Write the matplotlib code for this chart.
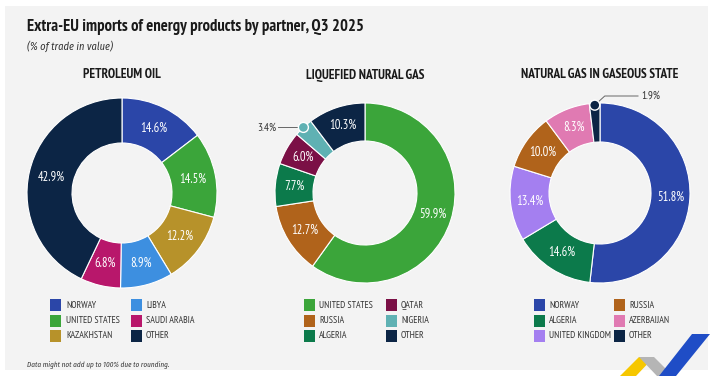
import numpy as np
import matplotlib
matplotlib.use("Agg")
import matplotlib.pyplot as plt
from matplotlib.patches import Rectangle, Polygon, Circle

plt.rcParams['font.family'] = ['PT Sans Narrow', 'DejaVu Sans']
ITAL_FONT = ['Fira Sans Condensed', 'PT Sans', 'DejaVu Sans']

# ---------------- data ----------------
title = "Extra-EU imports of energy products by partner, Q3 2025"
subtitle = "(% of trade in value)"
footer = "Data might not add up to 100% due to rounding."

oil_title = "PETROLEUM OIL"
oil_partners = ["NORWAY", "UNITED STATES", "KAZAKHSTAN", "LIBYA", "SAUDI ARABIA", "OTHER"]
oil_values = [14.6, 14.5, 12.2, 8.9, 6.8, 42.9]
oil_colors = ["#2b46a8", "#3ba53a", "#b7922a", "#3d8fe0", "#b8176b", "#0c2545"]

lng_title = "LIQUEFIED NATURAL GAS"
lng_partners = ["UNITED STATES", "RUSSIA", "ALGERIA", "QATAR", "NIGERIA", "OTHER"]
lng_values = [59.9, 12.7, 7.7, 6.0, 3.4, 10.3]
lng_colors = ["#3ba53a", "#b0631b", "#0c7a4b", "#7b1046", "#5fb1b3", "#0c2545"]

gas_title = "NATURAL GAS IN GASEOUS STATE"
gas_partners = ["NORWAY", "ALGERIA", "UNITED KINGDOM", "RUSSIA", "AZERBAIJAN", "OTHER"]
gas_values = [51.8, 14.6, 13.4, 10.0, 8.3, 1.9]
gas_colors = ["#2b46a8", "#0c7a4b", "#a47ff0", "#b0631b", "#e07ab2", "#0c2545"]

W, H = 724, 376
fig = plt.figure(figsize=(W / 100, H / 100), dpi=100)
fig.patch.set_facecolor("white")
ax = fig.add_axes([0, 0, 1, 1])


def Y(y):
    return H - y


# background panel
ax.add_patch(Rectangle((5, Y(370)), 703, 364, facecolor="#f3f3f3", edgecolor="none", zorder=0))

# title
ax.text(27, Y(27), title, fontsize=12, fontweight="bold", color="#1a1a1a", va="center", ha="left")
ax.text(27, Y(46), subtitle, fontsize=7.5, style="italic", color="#333333", va="center", ha="left",
        family=ITAL_FONT)
ax.text(27, Y(365), footer, fontsize=5.2, style="italic", color="#333333", va="center", ha="left",
        family=ITAL_FONT)

charts = [
    dict(title=oil_title, parts=oil_partners, vals=oil_values, cols=oil_colors,
         cx=122, cy=193, r=95, rin=50, small=[],
         leg=[(50, 66), (131, 146)]),
    dict(title=lng_title, parts=lng_partners, vals=lng_values, cols=lng_colors,
         cx=365, cy=193, r=90, rin=52, small=[4],
         leg=[(304, 319), (386, 401)]),
    dict(title=gas_title, parts=gas_partners, vals=gas_values, cols=gas_colors,
         cx=600, cy=193, r=90, rin=51, small=[5],
         leg=[(534, 549), (614, 629)]),
]

for c in charts:
    ax.text(c["cx"], Y(75), c["title"], fontsize=9.5, fontweight="bold", color="#1a1a1a",
            ha="center", va="center")
    wedges, _ = ax.pie(c["vals"], colors=c["cols"], startangle=90, counterclock=False,
                       radius=c["r"], center=(c["cx"], Y(c["cy"])),
                       wedgeprops=dict(width=c["r"] - c["rin"], edgecolor="white", linewidth=0.8))
    rmid = (c["r"] + c["rin"]) / 2
    for i, (w, v) in enumerate(zip(wedges, c["vals"])):
        th = np.deg2rad((w.theta1 + w.theta2) / 2)
        if i in c["small"]:
            continue
        ax.text(c["cx"] + rmid * np.cos(th), Y(c["cy"]) + rmid * np.sin(th), f"{v:.1f}%",
                color="white", fontsize=9, ha="center", va="center")
    # legend
    for i, (p, col) in enumerate(zip(c["parts"], c["cols"])):
        colx = i // 3
        row = i % 3
        sx, tx = c["leg"][colx]
        yy = 305 + row * 15.5
        ax.add_patch(Rectangle((sx, Y(yy) - 6), 11, 12, facecolor=col, edgecolor="none"))
        ax.text(tx, Y(yy), p, fontsize=7, color="#333333", ha="left", va="center")

# callout: Nigeria (LNG)
c = charts[1]
i = 4
th = np.deg2rad(90 - 360 * (sum(lng_values[:i]) + lng_values[i] / 2) / 100)
px, py = c["cx"] + c["r"] * np.cos(th), Y(c["cy"]) + c["r"] * np.sin(th)
ax.plot([px, 278], [py, py], color="#666666", lw=0.7, zorder=4)
ax.add_patch(Circle((px, py), 5, facecolor=lng_colors[i], edgecolor="white", lw=1, zorder=5))
ax.text(276, py, f"{lng_values[i]:.1f}%", fontsize=8, color="#333333", ha="right", va="center")

# callout: Other (gas)
c = charts[2]
i = 5
th = np.deg2rad(90 - 360 * (sum(gas_values[:i]) + gas_values[i] / 2) / 100)
px, py = c["cx"] + (c["r"] - 2) * np.cos(th), Y(c["cy"]) + (c["r"] - 2) * np.sin(th)
ax.plot([px, px + 10, 638], [py, Y(96), Y(96)], color="#666666", lw=0.7, zorder=4)
ax.add_patch(Circle((px, py), 5, facecolor=gas_colors[i], edgecolor="white", lw=1, zorder=5))
ax.text(641, Y(96), f"{gas_values[i]:.1f}%", fontsize=8, color="#333333", ha="left", va="center")

# logo
ax.add_patch(Polygon([(620, Y(376)), (639, Y(357)), (654, Y(357)), (636, Y(376))],
                     closed=True, facecolor="#f6c700", edgecolor="none", zorder=6))
ax.add_patch(Polygon([(639, Y(357)), (654, Y(357)), (673, Y(376)), (657, Y(376))],
                     closed=True, facecolor="#b5b5b5", edgecolor="none", zorder=6))
ax.add_patch(Polygon([(692, Y(334)), (710, Y(334)), (676, Y(376)), (659, Y(376))],
                     closed=True, facecolor="#1f4dc6", edgecolor="none", zorder=7))

ax.set_xlim(0, W)
ax.set_ylim(0, H)
ax.set_aspect("auto")
ax.axis("off")

fig.savefig("out.png", dpi=100, facecolor="white")
